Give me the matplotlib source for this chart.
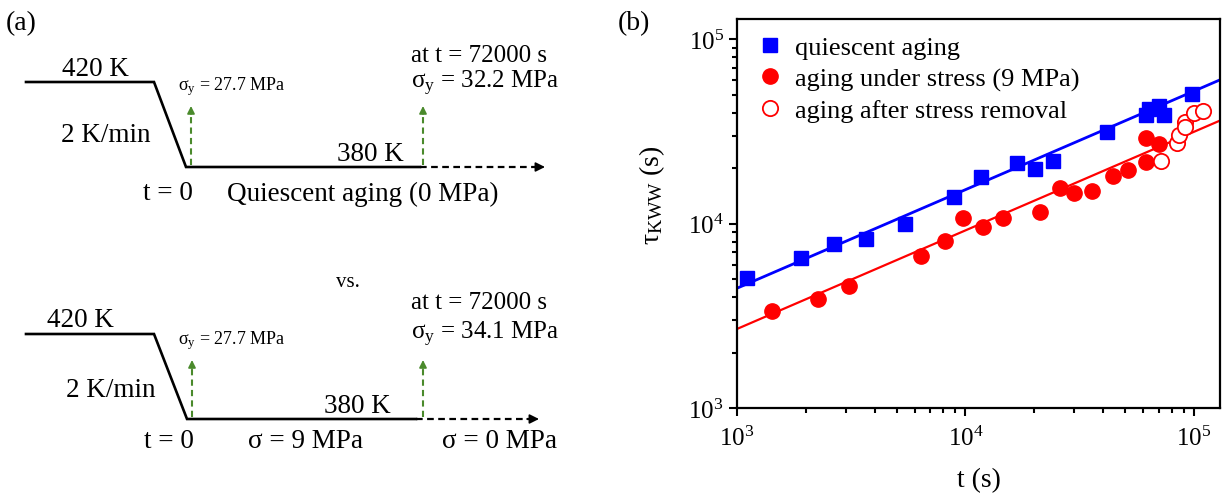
import matplotlib
matplotlib.use("Agg")
import matplotlib.pyplot as plt
import numpy as np

plt.rcParams['font.family'] = ['Liberation Serif', 'DejaVu Serif']
plt.rcParams['mathtext.fontset'] = 'custom'
plt.rcParams['mathtext.rm'] = 'Liberation Serif'
plt.rcParams['mathtext.it'] = 'Liberation Serif:italic'

# ---- data ----
t_quiescent = [1106, 1900, 2655, 3656, 5445, 8915, 11720, 16750, 20150, 24130,
               41500, 61760, 63250, 70500, 74270, 97960]
tau_quiescent = [5070, 6500, 7780, 8245, 9980, 14030, 18030, 21290, 19800, 21830,
                 31630, 38900, 41760, 43530, 38900, 50560]

t_stress = [1423, 2259, 3077, 6396, 8130, 9745, 11970, 14630, 21150, 26050,
            29740, 35910, 44050, 51510, 61760, 61760, 70000]
tau_stress = [3340, 3920, 4605, 6693, 8070, 10710, 9660, 10710, 11640, 15560,
              14750, 15140, 18170, 19570, 29040, 21730, 26980]

t_removal = [71960, 84520, 86270, 91660, 91660, 100000, 109700]
tau_removal = [21930, 27540, 30260, 35800, 33650, 40070, 40950]

# power-law fit lines: log10(tau) = a + b*(log10(t) - 3)
fit_quiescent = (3.650, 0.535)
fit_stress = (3.429, 0.535)

labels_b = ['quiescent aging', 'aging under stress (9 MPa)', 'aging after stress removal']

# ---- schematic (panel a) ----
profile_top_x = [26, 154, 186, 420]
profile_top_y = [83, 83, 168, 168]
profile_bot_x = [26, 154, 187, 416]
profile_bot_y = [335, 335, 420, 420]

fig = plt.figure(figsize=(12.25, 5.02), dpi=100)

# panel (a): pixel-like coordinates
axa = fig.add_axes([0, 0, 600 / 1225, 1])
axa.set_xlim(0, 600)
axa.set_ylim(502, 0)
axa.axis('off')

green = '#4a8a2c'
big = 19.5
mid = 18


def schematic(px, py, dash_end, arrow_x, y_tip):
    axa.plot(px, py, color='k', lw=1.9, solid_joinstyle='miter')
    y0 = py[-1]
    axa.plot([px[-1], dash_end - 8], [y0, y0], color='k', lw=1.6, ls=(0, (3, 2)))
    axa.annotate('', xy=(dash_end, y0), xytext=(dash_end - 12, y0),
                 arrowprops=dict(arrowstyle='-|>', color='k', lw=1.2,
                                 mutation_scale=14, shrinkA=0, shrinkB=0))
    for ax_ in arrow_x:
        axa.plot([ax_, ax_], [y0 - 2, y_tip + 6], color=green, lw=1.5, ls=(0, (3, 2)))
        axa.annotate('', xy=(ax_, y_tip), xytext=(ax_, y_tip + 8),
                     arrowprops=dict(arrowstyle='-|>', color=green, lw=1.2,
                                     mutation_scale=11, shrinkA=0, shrinkB=0))


schematic(profile_top_x, profile_top_y, 545, [191, 423], 107)
schematic(profile_bot_x, profile_bot_y, 539, [192, 423], 361)

axa.text(6, 30, '(a)', fontsize=20, va='baseline', ha='left')

# top schematic texts
axa.text(95, 76, '420 K', fontsize=big, ha='center', va='baseline')
axa.text(106, 142, '2 K/min', fontsize=big, ha='center', va='baseline')
axa.text(168, 200, 't = 0', fontsize=big, ha='center', va='baseline')
axa.text(227, 201, 'Quiescent aging (0 MPa)', fontsize=big, ha='left', va='baseline')
axa.text(370, 161, '380 K', fontsize=big, ha='center', va='baseline')
axa.text(178, 90, 'σ$_{\\mathrm{y}}$ = 27.7 MPa', fontsize=13, ha='left', va='baseline')
axa.text(411, 62, 'at t = 72000 s', fontsize=mid, ha='left', va='baseline')
axa.text(411, 88, 'σ$_{\\mathrm{y}}$ = 32.2 MPa', fontsize=mid, ha='left', va='baseline')

axa.text(348, 287, 'vs.', fontsize=15, ha='center', va='baseline')

# bottom schematic texts
axa.text(80, 327, '420 K', fontsize=big, ha='center', va='baseline')
axa.text(111, 397, '2 K/min', fontsize=big, ha='center', va='baseline')
axa.text(169, 448, 't = 0', fontsize=big, ha='center', va='baseline')
axa.text(306, 448, 'σ = 9 MPa', fontsize=big, ha='center', va='baseline')
axa.text(499, 448, 'σ = 0 MPa', fontsize=big, ha='center', va='baseline')
axa.text(357, 413, '380 K', fontsize=big, ha='center', va='baseline')
axa.text(178, 344, 'σ$_{\\mathrm{y}}$ = 27.7 MPa', fontsize=13, ha='left', va='baseline')
axa.text(411, 309, 'at t = 72000 s', fontsize=mid, ha='left', va='baseline')
axa.text(411, 339, 'σ$_{\\mathrm{y}}$ = 34.1 MPa', fontsize=mid, ha='left', va='baseline')

# panel (b)
ax = fig.add_axes([737 / 1225, 93 / 502, 483 / 1225, 389.5 / 502])
ax.set_xscale('log')
ax.set_yscale('log')
xmin, xmax = 1e3, 1.30e5
ax.set_xlim(xmin, xmax)
ax.set_ylim(1e3, 1.30e5)

ax.plot(t_quiescent, tau_quiescent, 's', color='#0000ff', ms=10, mec='#0000ff',
        label=labels_b[0], zorder=3)
ax.plot(t_stress, tau_stress, 'o', color='#ff0000', ms=11, mec='#ff0000',
        label=labels_b[1], zorder=3)
ax.plot(t_removal, tau_removal, 'o', mfc='white', mec='#ff0000', mew=1.3, ms=11,
        label=labels_b[2], zorder=3)

xl = np.log10([xmin, xmax])
for (a, b), c, lw in [(fit_quiescent, '#0000ff', 2.0), (fit_stress, '#ff0000', 1.6)]:
    ax.plot(10 ** xl, 10 ** (a + b * (xl - 3)), color=c, lw=lw, zorder=2)

for s in ax.spines.values():
    s.set_linewidth(1.6)
ax.tick_params(which='both', direction='out', width=1.5, labelsize=18, top=False, right=False)
ax.tick_params(which='major', length=6)
ax.tick_params(which='minor', length=3.5)
ax.tick_params(axis='x', pad=7)

ax.set_xlabel('t (s)', fontsize=20, labelpad=12)
ax.set_ylabel('τ$_{\\mathrm{KWW}}$ (s)', fontsize=20, labelpad=6)
ax.yaxis.set_label_coords(-0.145, 0.55)

ax.legend(loc='upper left', frameon=False, fontsize=19, handletextpad=0.35,
          labelspacing=0.3, borderaxespad=0.25, handlelength=1.2,
          bbox_to_anchor=(0.0, 1.0))

fig.text(634 / 1225, 1 - 30 / 502, '(b)', fontsize=20, ha='center', va='baseline')

fig.savefig('out.png', dpi=100)
